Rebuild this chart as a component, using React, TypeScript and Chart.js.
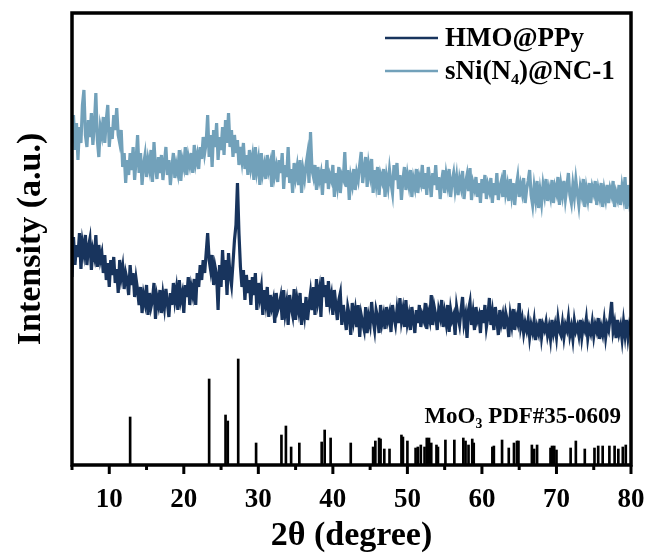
import React, { useEffect, useRef } from 'react';
import { Chart, registerables } from 'chart.js';

Chart.register(...registerables);

// Sampling grid of the two measured patterns (2θ, degrees)
const X_START = 5;
const X_STEP = 0.2;

// HMO@PPy intensity (a.u.), one value per grid step from 5° to 80° (10 values = 2°)
const hmoValues = [
  188, 228, 200, 220, 208, 232, 196, 222, 212, 230,
  200, 218, 226, 195, 215, 208, 230, 198, 220, 205,
  212, 192, 210, 185, 202, 178, 205, 190, 208, 182,
  196, 172, 205, 188, 198, 176, 192, 185, 170, 200,
  180, 192, 168, 186, 175, 160, 178, 152, 170, 162,
  180, 150, 172, 158, 165, 182, 146, 168, 160, 175,
  152, 170, 158, 176, 162, 148, 172, 160, 182, 165,
  176, 155, 185, 165, 172, 152, 180, 168, 188, 160,
  178, 170, 186, 160, 192, 178, 200, 185, 205, 192,
  212, 232, 205, 195, 210, 180, 198, 190, 155, 200,
  178, 215, 185, 205, 170, 212, 190, 180, 202, 225,
  240, 282, 232, 198, 178, 195, 165, 190, 172, 185,
  160, 188, 170, 192, 155, 182, 168, 178, 150, 175,
  162, 178, 148, 170, 158, 165, 142, 172, 155, 160,
  168, 145, 175, 152, 162, 140, 170, 158, 150, 176,
  145, 165, 155, 172, 140, 162, 150, 168, 145, 160,
  172, 155, 178, 150, 186, 165, 175, 148, 188, 168,
  180, 158, 184, 162, 170, 150, 175, 160, 145, 165,
  172, 140, 160, 148, 135, 158, 150, 130, 162, 145,
  155, 138, 160, 128, 150, 142, 135, 158, 132, 148,
  140, 163, 145, 135, 155, 148, 132, 160, 142, 150,
  136, 158, 145, 152, 133, 160, 148, 140, 155, 142,
  167, 145, 155, 138, 165, 142, 150, 135, 158, 145,
  132, 155, 142, 160, 138, 150, 145, 162, 136, 152,
  145, 170, 140, 158, 150, 135, 155, 148, 165, 138,
  152, 142, 160, 133, 155, 145, 150, 130, 158, 148,
  140, 155, 168, 142, 150, 127, 155, 163, 140, 152,
  135, 158, 145, 150, 132, 155, 142, 160, 138, 148,
  167, 140, 152, 135, 158, 145, 130, 155, 142, 150,
  136, 152, 145, 128, 150, 140, 156, 135, 148, 142,
  162, 138, 146, 132, 142, 135, 145, 128, 140, 133,
  144, 125, 138, 132, 146, 128, 140, 135, 143, 130,
  138, 126, 145, 132, 140, 128, 146, 134, 130, 142,
  128, 140, 135, 147, 130, 138, 126, 144, 134, 139,
  130, 145, 128, 140, 135, 146, 127, 138, 132, 143,
  129, 140, 134, 147, 126, 138, 131, 144, 128, 140,
  135, 148, 163, 134, 142, 127, 145, 132, 139, 126,
  143, 130, 145, 128, 140, 134,
];

// sNi(N4)@NC-1 intensity (a.u.), same grid
const sniValues = [
  328, 350, 315, 342, 305, 338, 322, 360, 375, 330,
  318, 345, 328, 352, 320, 340, 372, 325, 308, 338,
  330, 348, 322, 345, 360, 318, 338, 326, 350, 335,
  357, 330, 322, 335, 298, 312, 282, 305, 290, 312,
  295, 318, 285, 305, 330, 292, 312, 280, 300, 310,
  288, 305, 296, 315, 283, 323, 298, 286, 308, 292,
  310, 285, 302, 318, 290, 305, 280, 298, 312, 287,
  300, 292, 315, 284, 305, 298, 318, 290, 308, 300,
  312, 292, 320, 302, 310, 296, 318, 306, 328, 312,
  322, 350, 308, 330, 298, 335, 318, 342, 305, 328,
  315, 338, 310, 345, 322, 352, 318, 335, 308, 330,
  312, 325, 300, 318, 305, 322, 296, 310, 290, 315,
  298, 308, 285, 318, 295, 305, 280, 312, 292, 300,
  286, 310, 295, 302, 278, 315, 290, 298, 283, 305,
  292, 312, 276, 300, 288, 318, 282, 296, 272, 302,
  288, 298, 280, 305, 272, 295, 286, 300, 310, 282,
  333, 295, 288, 300, 275, 298, 285, 292, 270, 296,
  282, 305, 276, 290, 285, 300, 268, 292, 280, 298,
  272, 290, 286, 313, 278, 295, 265, 288, 280, 296,
  275, 292, 285, 300, 313, 282, 296, 308, 278, 300,
  290, 306, 272, 295, 282, 298, 270, 290, 284, 296,
  268, 288, 278, 295, 282, 272, 300, 285, 302, 276,
  290, 265, 285, 298, 275, 290, 280, 295, 268, 286,
  278, 296, 272, 288, 282, 300, 276, 292, 270, 298,
  285, 268, 292, 280, 300, 275, 288, 266, 284, 295,
  272, 290, 280, 296, 268, 284, 292, 276, 288, 270,
  286, 278, 294, 266, 282, 290, 274, 297, 265, 282,
  276, 288, 268, 282, 262, 286, 272, 290, 266, 280,
  274, 287, 262, 282, 270, 292, 265, 278, 284, 268,
  295, 272, 280, 264, 286, 270, 282, 260, 278, 288,
  268, 280, 272, 287, 262, 276, 284, 295, 270, 260,
  278, 266, 284, 257, 274, 262, 280, 270, 286, 264,
  276, 268, 285, 262, 278, 272, 288, 260, 280, 270,
  284, 266, 278, 292, 270, 262, 280, 268, 285, 272,
  260, 278, 270, 286, 258, 276, 266, 282, 262, 278,
  272, 284, 260, 276, 268, 282, 258, 275, 266, 280,
  262, 276, 270, 284, 258, 272, 266, 280, 260, 278,
  268, 288, 256, 280, 264, 272,
];

// MoO3 reference pattern (PDF#35-0609): peak positions and relative heights
const stickPositions = [
  12.8, 23.4, 25.6, 25.9, 27.3, 29.7, 33.1, 33.7, 34.4, 35.5,
  38.5, 38.9, 39.7, 42.4, 45.4, 45.7, 46.2, 46.4, 46.9, 47.6,
  49.2, 49.4, 50.0, 51.1, 51.4, 51.8, 52.3, 52.6, 52.9, 53.2,
  53.9, 54.1, 55.1, 56.3, 57.5, 57.8, 58.2, 58.7, 58.9, 61.4,
  61.6, 62.7, 63.6, 64.3, 64.7, 64.9, 66.7, 67.0, 67.4, 69.2,
  69.4, 69.7, 70.0, 71.9, 72.6, 73.8, 75.1, 75.6, 76.2, 77.1,
  77.8, 78.3, 78.9, 79.3,
];
const stickHeights = [
  48, 86, 50, 44, 106, 22, 30, 39, 18, 22,
  23, 35, 27, 22, 18, 24, 27, 26, 16, 16,
  30, 28, 24, 17, 18, 20, 18, 27, 27, 22,
  20, 18, 25, 25, 27, 24, 20, 26, 22, 18,
  19, 25, 17, 22, 24, 24, 20, 16, 20, 17,
  19, 19, 15, 17, 24, 16, 17, 19, 19, 19,
  19, 16, 18, 20,
];

const xTickLabels = [10, 20, 30, 40, 50, 60, 70, 80];
const seriesLabels = ['HMO@PPy', 'sNi(N\u2084)@NC-1'];
const referenceLabel = 'MoO\u2083 PDF#35-0609';
const xTitle = '2\u03b8 (degree)';
const yTitle = 'Intensity (a.u.)';

const DARK = '#18345d';
const LIGHT = '#72a1ba';
const FONT = '"Liberation Serif", "Times New Roman", serif';

export default function App() {
  const canvasRef = useRef<HTMLCanvasElement>(null);

  useEffect(() => {
    const canvas = canvasRef.current;
    if (!canvas) return;
    const toPoints = (vals: number[]) =>
      vals.map((y, i) => ({ x: Math.round((X_START + i * X_STEP) * 100) / 100, y }));

    const decor = {
      id: 'decor',
      afterDatasetsDraw(chart: any) {
        const { ctx, chartArea } = chart;
        const { left, right, top, bottom } = chartArea;
        const xs = chart.scales.x;
        ctx.save();
        ctx.strokeStyle = '#000';
        ctx.lineWidth = 3;
        ctx.lineCap = 'butt';
        // major ticks
        xTickLabels.forEach((v) => {
          const px = xs.getPixelForValue(v);
          ctx.beginPath();
          ctx.moveTo(px, bottom);
          ctx.lineTo(px, bottom + 9);
          ctx.stroke();
        });
        // minor ticks halfway between labelled ticks
        for (let i = 0; i < xTickLabels.length; i++) {
          const v = xTickLabels[i] - 5;
          const px = xs.getPixelForValue(v);
          ctx.beginPath();
          ctx.moveTo(px, bottom);
          ctx.lineTo(px, bottom + 5);
          ctx.stroke();
        }
        // frame
        ctx.lineWidth = 3.5;
        ctx.strokeRect(left, top, right - left, bottom - top);

        // legend (inside plot, top right)
        const lineDs = chart.data.datasets.filter((d: any) => d.type === 'line');
        ctx.font = `bold 27px ${FONT}`;
        ctx.textAlign = 'left';
        ctx.textBaseline = 'alphabetic';
        lineDs.forEach((d: any, i: number) => {
          const y = 38 + i * 33;
          ctx.strokeStyle = d.borderColor;
          ctx.lineWidth = 2.5;
          ctx.beginPath();
          ctx.moveTo(385, y);
          ctx.lineTo(438, y);
          ctx.stroke();
          ctx.fillStyle = '#000';
          ctx.fillText(d.label, 445, y + 8);
        });

        // reference pattern label
        ctx.font = `bold 23px ${FONT}`;
        ctx.textAlign = 'right';
        ctx.fillStyle = '#000';
        ctx.fillText(referenceLabel, 621, 423);
        ctx.restore();
      },
    };

    const chart = new Chart(canvas, {
      type: 'line',
      data: {
        datasets: [
          {
            type: 'line',
            label: seriesLabels[0],
            data: toPoints(hmoValues),
            borderColor: DARK,
            borderWidth: 3.2,
            pointRadius: 0,
            tension: 0,
            fill: false,
          },
          {
            type: 'line',
            label: seriesLabels[1],
            data: toPoints(sniValues),
            borderColor: LIGHT,
            borderWidth: 3.2,
            pointRadius: 0,
            tension: 0,
            fill: false,
          },
          {
            type: 'bar',
            label: referenceLabel,
            data: stickPositions.map((x, i) => ({ x, y: stickHeights[i] })),
            backgroundColor: '#000',
            borderWidth: 0,
            barThickness: 2,
          },
        ],
      } as any,
      options: {
        responsive: false,
        animation: false,
        layout: { padding: { left: 0, right: 16, top: 13, bottom: 0 } },
        plugins: {
          legend: { display: false },
          tooltip: { enabled: false },
        },
        scales: {
          x: {
            type: 'linear',
            min: 5,
            max: 80,
            offset: false,
            grid: { display: false, drawTicks: false },
            border: { display: false },
            afterBuildTicks: (s: any) => {
              s.ticks = xTickLabels.map((v) => ({ value: v }));
            },
            afterFit: (s: any) => {
              s.height = 89;
            },
            ticks: {
              color: '#000',
              padding: 1,
              maxRotation: 0,
              autoSkip: false,
              font: { family: FONT, size: 27, weight: 'bold', lineHeight: 2.5 },
            },
            title: {
              display: true,
              text: xTitle,
              color: '#000',
              padding: { top: 0, bottom: 1 },
              font: { family: FONT, size: 34, weight: 'bold', lineHeight: 1 },
            },
          },
          y: {
            type: 'linear',
            min: 0,
            max: 452,
            grid: { display: false, drawTicks: false },
            border: { display: false },
            ticks: { display: false },
            afterFit: (s: any) => {
              s.width = 72;
            },
            title: {
              display: true,
              text: yTitle,
              color: '#000',
              padding: { top: 14, bottom: 0 },
              font: { family: FONT, size: 34, weight: 'bold', lineHeight: 1 },
            },
          },
        },
      } as any,
      plugins: [decor],
    });
    return () => chart.destroy();
  }, []);

  return (
    <div style={{ position: 'fixed', left: 0, top: 0, width: 647, height: 554, background: '#fff' }}>
      <canvas ref={canvasRef} width={647} height={554} style={{ width: 647, height: 554, display: 'block' }} />
    </div>
  );
}
